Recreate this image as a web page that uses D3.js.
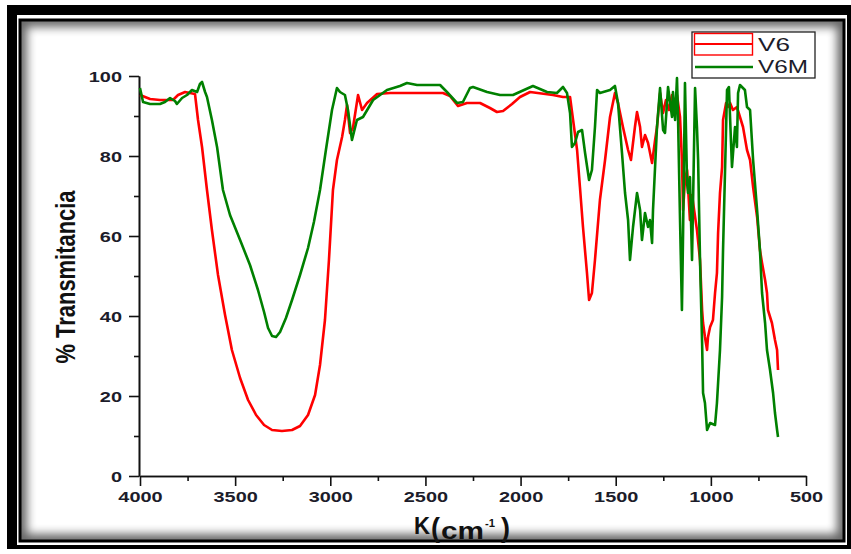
<!DOCTYPE html>
<html>
<head>
<meta charset="utf-8">
<script src="https://cdn.jsdelivr.net/npm/d3@7/dist/d3.min.js"></script>
<style>
	body { margin: 0; background: #fff; }
	svg { display: block; }
</style>
</head>
<body>
<script>
// wavenumber (cm-1), % transmittance
var v6Spectrum = [
	[4000,95.25],[3947,94.25],[3895,94],[3827,94],[3800,95.25],[3763,96],[3711,95.5],[3695,89],[3674,82.25],
	[3648,71.5],[3622,61.5],[3590,50.25],[3553,40.25],[3517,31.5],[3474,24.5],[3432,19],[3390,15.25],
	[3348,12.75],[3306,11.5],[3254,11.25],[3201,11.5],[3159,12.5],[3117,15.25],[3080,20.25],[3054,27.75],
	[3028,39],[3007,54],[2986,71.5],[2965,79],[2938,84.75],[2923,89],[2912,92.75],[2896,85.75],[2881,87],
	[2854,95.25],[2833,91.5],[2807,93.25],[2754,95.5],[2686,95.75],[2408,95.75],[2371,95],[2329,92.5],
	[2282,93.25],[2213,93.25],[2161,92],[2124,91],[2092,91.25],[2045,93],[2003,94.75],[1950,96],[1830,95.25],
	[1777,94.75],[1740,94.75],[1724,89],[1703,81.5],[1688,72.25],[1672,62.25],[1651,50.75],[1640,44],
	[1625,45.75],[1609,54],[1583,69],[1556,79],[1530,89.75],[1504,95.75],[1488,93.25],[1462,87.25],
	[1435,81.5],[1420,79],[1399,87.25],[1388,91],[1372,87.25],[1362,82.25],[1346,85.25],[1330,83.25],
	[1309,78.25],[1293,84],[1283,87.25],[1267,95.75],[1251,90.75],[1236,94],[1220,91.5],[1204,95.25],
	[1188,92.75],[1178,95.25],[1162,89.75],[1152,79],[1146,66.5],[1136,74],[1125,76.5],[1110,64],
	[1099,70.25],[1088,66.5],[1073,61.5],[1057,54],[1046,41.5],[1041,38.25],[1031,34.75],[1020,31.5],
	[1015,34.75],[1004,37.25],[989,39],[978,45.75],[968,50.75],[962,60.75],[952,70.75],[941,77.25],[936,89],
	[920,93.25],[910,92.25],[899,93.25],[884,91.5],[863,92.25],[847,89.75],[831,87.25],[810,81.5],[794,79],
	[778,72.25],[757,64.75],[742,56.5],[731,53.25],[715,49],[705,45.75],[700,41.5],[679,38.25],[663,34],
	[652,31.5],[647,26.5]
];

var v6mSpectrum = [
	[4000,97],[3984,93.5],[3947,93],[3895,93],[3869,93.5],[3842,94.5],[3816,93.75],[3806,93],[3779,94.5],
	[3753,95.25],[3727,96.5],[3700,96],[3685,98],[3674,98.5],[3658,96],[3648,94.75],[3622,89],[3595,82.25],
	[3564,71.5],[3527,65.25],[3474,59],[3422,52.75],[3380,46.5],[3348,41],[3327,37],[3306,35],[3285,34.75],
	[3264,36],[3233,39.5],[3201,44],[3159,50.25],[3117,57],[3086,63.5],[3054,71.5],[3023,81.5],[2991,91.5],
	[2965,97],[2949,96],[2923,95.25],[2907,91.5],[2886,84],[2860,89],[2828,89.75],[2775,94],[2702,96.5],
	[2634,97.5],[2597,98.25],[2544,97.75],[2423,97.75],[2387,96],[2334,93.25],[2303,93.5],[2266,97],
	[2250,97.25],[2176,96],[2108,95.25],[2040,95.25],[1935,97.5],[1861,96],[1809,95.75],[1777,97.25],
	[1756,95.75],[1740,90.75],[1730,82.25],[1714,83.25],[1698,86],[1677,86.5],[1661,80.75],[1640,74],
	[1625,76.5],[1609,87.25],[1598,96.5],[1583,95.75],[1530,96.5],[1504,97.5],[1488,93.25],[1467,80.75],
	[1451,70.75],[1435,64],[1425,54],[1409,62.25],[1388,70.75],[1372,66.5],[1362,59],[1346,65.75],
	[1330,62.25],[1320,64],[1309,58.25],[1304,66.5],[1283,87.25],[1267,97],[1251,86.5],[1241,85.75],
	[1225,97.25],[1204,89.75],[1199,96],[1188,89],[1178,99.5],[1173,90.75],[1162,64],[1152,41.5],
	[1146,60.75],[1136,98.25],[1125,73.25],[1120,70.75],[1110,74.75],[1099,54],[1094,67.25],[1083,97],
	[1073,87.25],[1067,79],[1057,54],[1046,33.25],[1041,20.75],[1031,18.25],[1020,11.5],[1004,13.25],
	[978,12.75],[968,18.25],[962,23.25],[952,31.5],[941,44.75],[936,56.5],[925,77.25],[915,96.5],
	[905,97.25],[894,83.25],[889,77.25],[873,87.25],[863,82.25],[857,95.75],[847,97.75],[821,96.5],
	[810,92.25],[794,91.5],[778,79],[757,66.5],[742,56.5],[731,45.75],[715,38.25],[705,31.5],[689,26.5],
	[673,20.75],[663,15.75],[652,11.5],[647,9.75]
];

var seriesNames = ["V6", "V6M"];
var seriesColors = ["#ff0000", "#008000"];
var xTicks = [4000, 3500, 3000, 2500, 2000, 1500, 1000, 500];
var xMinorTicks = [3750, 3250, 2750, 2250, 1750, 1250, 750];
var yTicks = [0, 20, 40, 60, 80, 100];
var yMinorTicks = [10, 30, 50, 70, 90];

(function() {

	var width = 851;
	var height = 554;
	var plot = { left: 140, right: 806, top: 76, bottom: 476 };
	var stretch = 1.42; // the picture is wider than its fonts

	var svg = d3.select("body").append("svg")
		.attr("width", width).attr("height", height);

	var x = d3.scaleLinear().domain([4000, 500]).range([plot.left, plot.right]);
	var y = d3.scaleLinear().domain([0, 100]).range([plot.bottom, plot.top]);

	drawFrame();
	drawAxes();
	drawSeries([v6Spectrum, v6mSpectrum]);
	drawLegend();
	drawTitles();

	function drawFrame() {
		var defs = svg.append("defs");
		defs.append("clipPath").attr("id", "panel")
			.append("rect").attr("x", 20).attr("y", 20).attr("width", 824).attr("height", 521);
		defs.append("filter").attr("id", "soft")
			.attr("x", "-5%").attr("y", "-5%").attr("width", "110%").attr("height", "110%")
			.append("feGaussianBlur").attr("stdDeviation", 5);

		svg.append("rect").attr("x", 7).attr("y", 5).attr("width", 850).attr("height", 544).attr("fill", "#000");
		svg.append("rect").attr("x", 17).attr("y", 15).attr("width", 830).attr("height", 530).attr("fill", "#fff");
		svg.append("rect").attr("x", 20).attr("y", 20).attr("width", 824).attr("height", 521).attr("fill", "#fff");
		svg.append("g").attr("clip-path", "url(#panel)")
			.append("rect").attr("x", 20).attr("y", 20).attr("width", 824).attr("height", 521)
			.attr("fill", "none").attr("stroke", "#000").attr("stroke-width", 14)
			.attr("opacity", 0.6).attr("filter", "url(#soft)");
		svg.append("rect").attr("x", 20).attr("y", 20).attr("width", 824).attr("height", 521)
			.attr("fill", "none").attr("stroke", "#000").attr("stroke-width", 3);
	}

	function styleLabels(sel) {
		sel.selectAll("text")
			.attr("fill", "#1c1c2a")
			.style("font-family", "'Liberation Sans', Arial, sans-serif")
			.style("font-weight", "bold")
			.style("font-size", "14px")
			.attr("lengthAdjust", "spacingAndGlyphs")
			.attr("textLength", function(d) { return String(d).length * 7.8 * stretch; });
	}

	function drawAxes() {
		var xMajor = d3.axisBottom(x).tickValues(xTicks).tickSize(10).tickSizeOuter(0).tickFormat(d3.format("d"));
		var xMinor = d3.axisBottom(x).tickValues(xMinorTicks).tickSize(5).tickSizeOuter(0).tickFormat("");
		var yMajor = d3.axisLeft(y).tickValues(yTicks).tickSize(10).tickSizeOuter(0).tickFormat(d3.format("d"));
		var yMinor = d3.axisLeft(y).tickValues(yMinorTicks).tickSize(5).tickSizeOuter(0).tickFormat("");

		var gx = svg.append("g").attr("transform", "translate(0," + plot.bottom + ")").call(xMajor);
		svg.append("g").attr("transform", "translate(0," + plot.bottom + ")").call(xMinor);
		var gy = svg.append("g").attr("transform", "translate(" + (plot.left - 1) + ",0)").call(yMajor);
		svg.append("g").attr("transform", "translate(" + (plot.left - 1) + ",0)").call(yMinor);

		svg.selectAll(".domain, .tick line").attr("stroke", "#111").attr("stroke-width", 1.6);

		gx.selectAll("text").attr("y", 26).attr("dy", 0);
		gy.selectAll("text").attr("x", -17).attr("dy", "0.36em");
		styleLabels(gx);
		styleLabels(gy);
	}

	function drawSeries(allSeries) {
		var line = d3.line()
			.x(function(d) { return x(d[0]); })
			.y(function(d) { return y(d[1]); });

		svg.selectAll(".spectrum")
			.data(allSeries)
			.enter().append("path")
			.attr("class", "spectrum")
			.attr("d", line)
			.attr("fill", "none")
			.attr("stroke", function(d, i) { return seriesColors[i]; })
			.attr("stroke-width", 2.6)
			.attr("stroke-linejoin", "round");
	}

	function drawLegend() {
		var g = svg.append("g");
		g.append("rect").attr("x", 692).attr("y", 32).attr("width", 123).attr("height", 46)
			.attr("fill", "#fff").attr("stroke", "#222").attr("stroke-width", 1.3);

		// V6 sample, drawn as Origin does: a box with a line through it
		g.append("rect").attr("x", 694.5).attr("y", 33.5).attr("width", 58).attr("height", 21.5)
			.attr("fill", "none").attr("stroke", seriesColors[0]).attr("stroke-width", 1.4);
		g.append("line").attr("x1", 694.5).attr("x2", 752.5).attr("y1", 44).attr("y2", 44)
			.attr("stroke", seriesColors[0]).attr("stroke-width", 2.2);
		g.append("line").attr("x1", 695).attr("x2", 753).attr("y1", 67).attr("y2", 67)
			.attr("stroke", seriesColors[1]).attr("stroke-width", 2.6);

		var baselines = [50.5, 72.5];
		g.selectAll(".legend-label")
			.data(seriesNames)
			.enter().append("text")
			.attr("class", "legend-label")
			.attr("x", 758)
			.attr("y", function(d, i) { return baselines[i]; })
			.attr("fill", "#1c1c2a")
			.style("font-family", "'Liberation Sans', Arial, sans-serif")
			.style("font-size", "18px")
			.attr("lengthAdjust", "spacingAndGlyphs")
			.attr("textLength", function(d) { return d.length === 2 ? 32 : 50; })
			.text(function(d) { return d; });
	}

	function drawTitles() {
		svg.append("text")
			.attr("transform", "translate(75,277) scale(" + stretch + ",1) rotate(-90)")
			.attr("text-anchor", "middle")
			.attr("fill", "#111")
			.style("font-family", "'Liberation Sans', Arial, sans-serif")
			.style("font-weight", "bold")
			.style("font-size", "20px")
			.attr("lengthAdjust", "spacingAndGlyphs")
			.attr("textLength", 173)
			.text("% Transmitancia");

		var parts = [
			{ t: "K", x: 414, y: 534, size: 23, len: 16 },
			{ t: "(", x: 431, y: 537, size: 28, len: 9 },
			{ t: "cm", x: 441, y: 539, size: 23, len: 43 },
			{ t: "-1", x: 485, y: 527, size: 10, len: 10 },
			{ t: ")", x: 501, y: 537, size: 28, len: 9 }
		];
		svg.selectAll(".xtitle")
			.data(parts)
			.enter().append("text")
			.attr("class", "xtitle")
			.attr("x", function(d) { return d.x; })
			.attr("y", function(d) { return d.y; })
			.attr("fill", "#111")
			.style("font-family", "'Liberation Sans', Arial, sans-serif")
			.style("font-weight", "bold")
			.style("font-size", function(d) { return d.size + "px"; })
			.attr("lengthAdjust", "spacingAndGlyphs")
			.attr("textLength", function(d) { return d.len; })
			.text(function(d) { return d.t; });
	}

})();
</script>
</body>
</html>
